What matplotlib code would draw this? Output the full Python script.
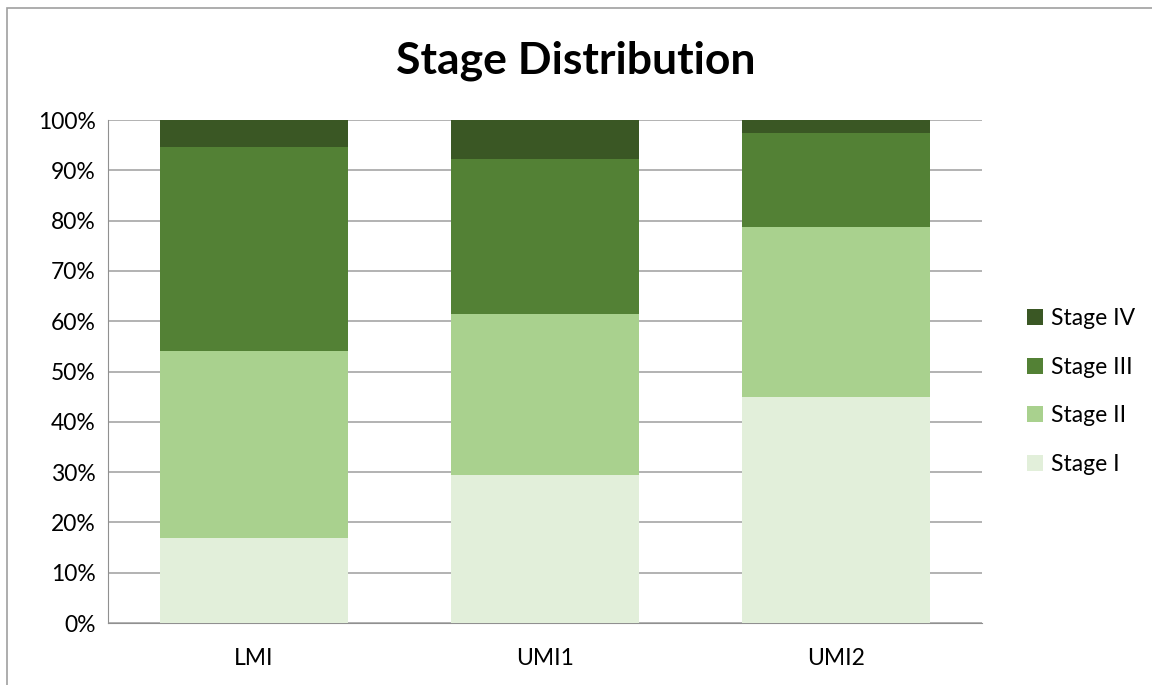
import matplotlib
matplotlib.use('Agg')
from matplotlib import pyplot as plt
from matplotlib.patches import Rectangle
import numpy as np

# stage share per income group (% of cases)
groups = ['LMI', 'UMI1', 'UMI2']
stages = ['Stage I', 'Stage II', 'Stage III', 'Stage IV']
stage1 = [16.9, 29.4, 44.9]
stage2 = [37.2, 32.0, 33.9]
stage3 = [40.5, 30.9, 18.7]
stage4 = [5.4, 7.7, 2.5]
colors = ['#E2EFDA', '#A9D18E', '#538135', '#3A5724']

plt.rcParams['font.family'] = ['Lato', 'DejaVu Sans']

fig = plt.figure(figsize=(11.52, 6.85), dpi=100)
ax = fig.add_axes([0.0938, 0.0905, 0.7586, 0.7343])

# outer chart border like the Excel chart area
fig.patches.append(Rectangle((7/1152, -0.01), 1.02, 1 - 8/685 + 0.01,
                             transform=fig.transFigure, fill=False,
                             edgecolor='#A0A0A0', linewidth=1.2))

x = np.arange(len(groups))
bottom = np.zeros(len(groups))
for vals, name, c in zip([stage1, stage2, stage3, stage4], stages, colors):
    ax.bar(x, vals, 0.646, bottom=bottom, color=c, label=name, zorder=3)
    bottom += np.array(vals)

ax.set_xlim(-0.5, 2.5)
ax.set_ylim(0, 100)
ax.set_yticks(np.arange(0, 101, 10))
ax.set_yticklabels([f'{v}%' for v in range(0, 101, 10)])
ax.set_xticks(x)
ax.set_xticklabels(groups)
ax.tick_params(axis='both', length=0, labelsize=16.5, colors='black')
ax.tick_params(axis='y', pad=9)
ax.tick_params(axis='x', pad=18)
ax.grid(axis='y', color='#A6A6A6', linewidth=1.2, zorder=0)
ax.set_axisbelow(True)
for s in ['top', 'right']:
    ax.spines[s].set_visible(False)
ax.spines['left'].set_color('#909090')
ax.spines['bottom'].set_color('#909090')

fig.text(0.5, 0.912, 'Stage Distribution', ha='center', va='center',
         fontsize=32, fontweight='bold')

h, l = ax.get_legend_handles_labels()
leg = ax.legend(h[::-1], l[::-1], loc='center left', bbox_to_anchor=(1.028, 0.46),
                frameon=False, fontsize=16.5, handlelength=0.7, handleheight=0.7,
                handletextpad=0.35, labelspacing=1.2)

fig.savefig('out.png', dpi=100)
